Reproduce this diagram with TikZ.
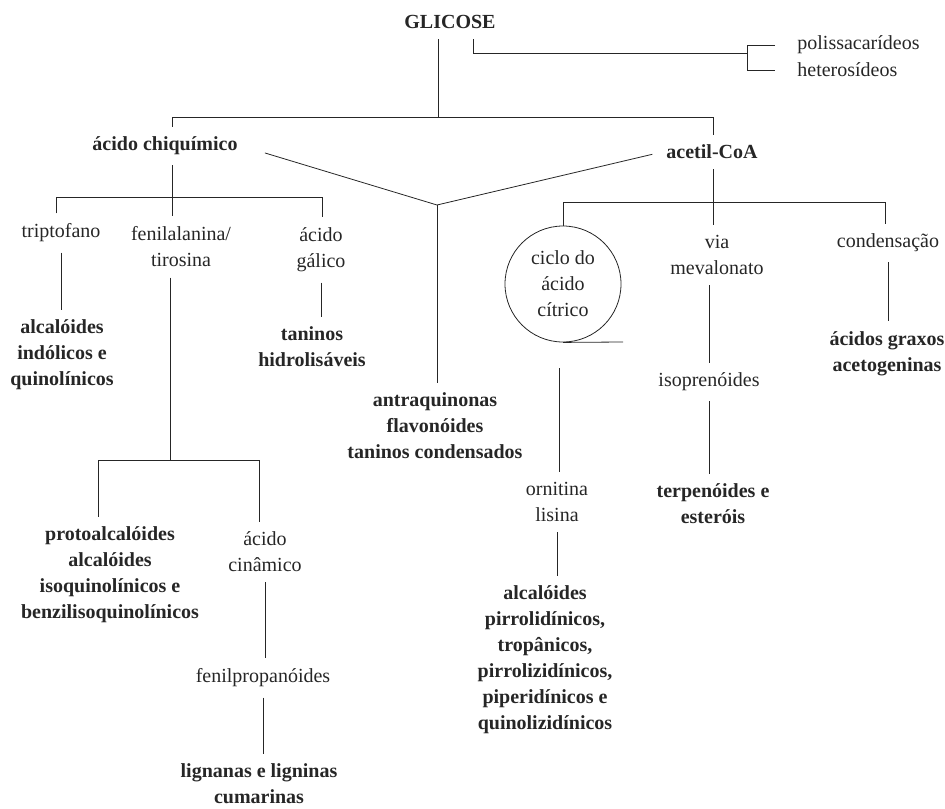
\documentclass[tikz,border=0pt]{standalone}
\usepackage{fontspec}
\setmainfont{Liberation Serif}
\usepackage{tikz}
\tikzstyle{inter}=[align=center,text=black!85,font=\fontsize{10}{13}\selectfont,inner xsep=2pt,inner ysep=5pt]
\tikzstyle{prod}=[inter,font=\fontsize{10}{13}\selectfont\bfseries]
\tikzstyle{ring}=[inter,circle,draw=black!85,minimum size=58pt,inner sep=0pt]

\begin{document}
\begin{tikzpicture}[x=0.5pt,y=-0.5pt,draw=black!85]
\useasboundingbox (0,0) rectangle (945,808);
\node[prod] at (450, 22) (glicose) {GLICOSE};
\node[inter, anchor=west] at (793, 45) (poli) {polissacarídeos};
\node[inter, anchor=west] at (793, 70) (hetero) {heterosídeos};
\node[prod] at (165, 146) (chiq) {ácido chiquímico};
\node[prod] at (712, 152) (acetil) {acetil-CoA};
\node[inter] at (61, 233) (trip) {triptofano};
\node[inter] at (181, 247) (fenil) {fenilalanina/\\tirosina};
\node[inter] at (321, 250) (galico) {ácido\\gálico};
\node[prod] at (62, 355) (indol) {alcalóides\\indólicos e\\quinolínicos};
\node[prod] at (312, 347) (hidrol) {taninos\\hidrolisáveis};
\node[prod] at (435, 426) (antra) {antraquinonas\\flavonóides\\taninos condensados};
\node[ring] at (563, 284) (ciclo) {ciclo do\\ácido\\cítrico};
\node[inter] at (717, 255) (via) {via\\mevalonato};
\node[inter] at (888, 243) (cond) {condensação};
\node[prod] at (887, 354) (graxos) {ácidos graxos\\acetogeninas};
\node[inter] at (709, 382) (iso) {isoprenóides};
\node[prod] at (713, 504) (terp) {terpenóides e\\esteróis};
\node[inter] at (557, 502) (orn) {ornitina\\lisina};
\node[prod] at (545, 660) (pirrol) {alcalóides\\pirrolidínicos,\\tropânicos,\\pirrolizidínicos,\\piperidínicos e\\quinolizidínicos};
\node[prod] at (110, 575) (proto) {protoalcalóides\\alcalóides\\isoquinolínicos e\\benzilisoquinolínicos};
\node[inter] at (265, 552) (cinam) {ácido\\cinâmico};
\node[inter] at (263, 678) (fenilp) {fenilpropanóides};
\node[prod] at (259, 784) (lign) {lignanas e ligninas\\cumarinas};
\coordinate (g0) at (438, 117);
\coordinate (g1) at (172, 117);
\coordinate (g2) at (713, 117);
\coordinate (gs) at (473, 53);
\coordinate (br) at (747, 53);
\coordinate (c0) at (56, 197);
\coordinate (c1) at (172, 197);
\coordinate (c2) at (322, 197);
\coordinate (v) at (437, 205);
\coordinate (f0) at (98, 460);
\coordinate (f1) at (170, 460);
\coordinate (f2) at (259, 460);
\coordinate (a0) at (563, 202);
\coordinate (a1) at (713, 202);
\coordinate (a2) at (885, 202);
\coordinate (cb) at (623, 342);
\coordinate (ct) at (559, 368);
\draw (glicose.south -| g0) -- (g0);
\draw (chiq.north -| g1) -- (g1) -- (g2) -- (acetil.north -| g2);
\draw (glicose.south -| gs) -- (gs) -- (br);
\draw[shorten <=9pt, shorten >=9pt] (poli.west) -| (br) |- (hetero.west);
\draw (chiq.south -| c1) -- (c1);
\draw (trip.north -| c0) -- (c0) -- (c2) -- (galico.north -| c2);
\draw (c1) -- (fenil.north -| c1);
\draw[shorten <=12pt] (chiq.east) -- (v);
\draw[shorten <=5pt] (acetil.west) -- (v);
\draw (v) -- (antra.north -| v);
\draw (trip.south) -- (trip.south |- indol.north);
\draw (galico.south) -- (galico.south |- hidrol.north);
\draw (fenil.south -| f1) -- (f1);
\draw (proto.north -| f0) -- (f0) -- (f2) -- (cinam.north -| f2);
\draw (cinam.south) -- (cinam.south |- fenilp.north);
\draw (fenilp.south) -- (fenilp.south |- lign.north);
\draw (acetil.south -| a1) -- (a1);
\draw (ciclo.north) -- (a0) -- (a2) -- (cond.north -| a2);
\draw (a1) -- (via.north -| a1);
\draw (ciclo.south) -- (cb);
\draw (ct) -- (orn.north -| ct);
\draw (orn.south) -- (orn.south |- pirrol.north);
\draw (iso.north |- via.south) -- (iso.north);
\draw (iso.south) -- (iso.south |- terp.north);
\draw (cond.south) -- (cond.south |- graxos.north);
\end{tikzpicture}
\end{document}
